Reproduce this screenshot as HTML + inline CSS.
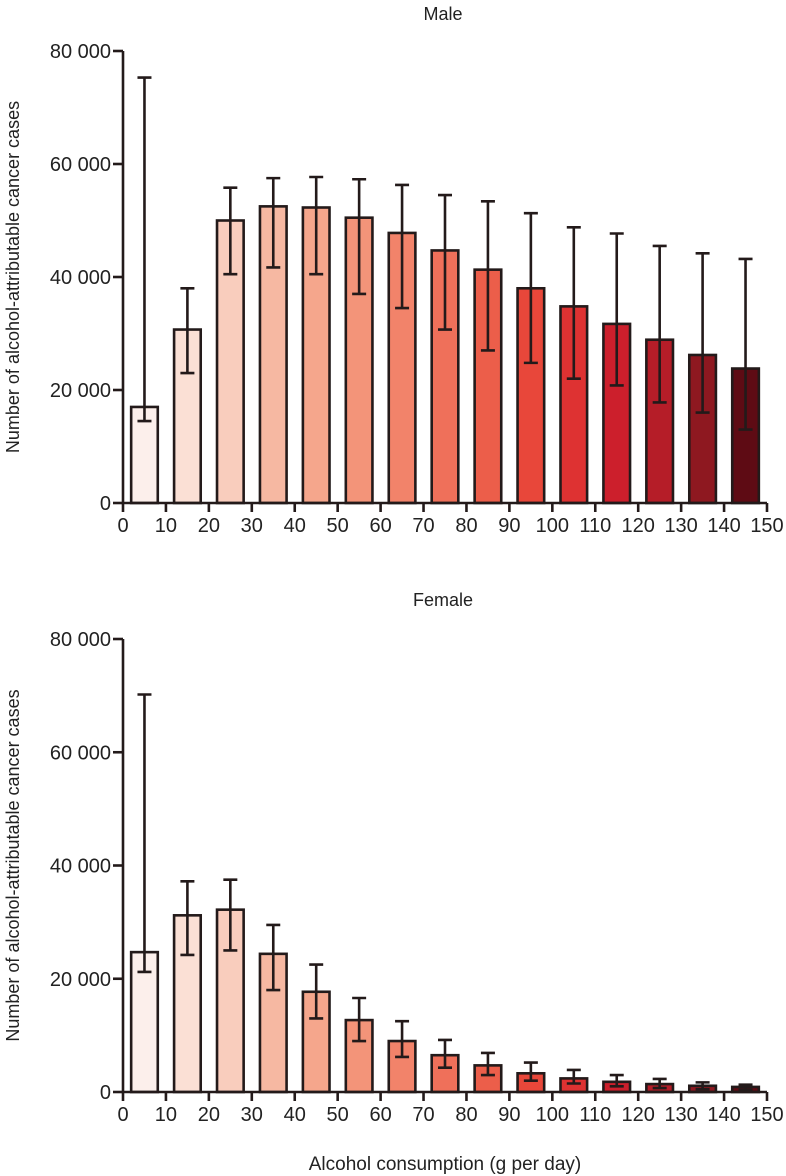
<!DOCTYPE html>
<html><head><meta charset="utf-8">
<style>
html,body{margin:0;padding:0;background:#fff;}
svg{display:block;font-family:"Liberation Sans",sans-serif;}
</style></head>
<body>
<svg id="chart" width="786" height="1176" viewBox="0 0 786 1176" xmlns="http://www.w3.org/2000/svg"></svg>
<script>
const categories = [0,10,20,30,40,50,60,70,80,90,100,110,120,130,140];
const xTicks = [0,10,20,30,40,50,60,70,80,90,100,110,120,130,140,150];
const yTicks = [0,20000,40000,60000,80000];
const yTickLabels = ["0","20 000","40 000","60 000","80 000"];
const maleValues = [17000,30700,50000,52500,52300,50500,47800,44700,41300,38000,34800,31700,28900,26200,23800];
const maleLow = [14500,23000,40500,41700,40500,37000,34500,30700,27000,24800,22000,20800,17800,16000,13000];
const maleHigh = [75300,38000,55800,57500,57700,57300,56300,54500,53400,51300,48800,47700,45500,44200,43200];
const femaleValues = [24700,31200,32200,24400,17700,12700,9000,6500,4700,3300,2400,1800,1400,1100,900];
const femaleLow = [21200,24200,25000,18000,13000,9000,6200,4300,3000,2000,1500,1000,700,500,400];
const femaleHigh = [70200,37200,37500,29500,22500,16600,12500,9200,6900,5200,3900,3000,2300,1700,1300];
const colors = ["#fcefeb","#fbe0d5","#f9cdbd","#f6b8a2","#f5a68c","#f39479","#f2836a","#ef705a","#ec5e4a","#e8473a","#de3232","#cc1f2c","#b51d28","#8e1820","#5e0b14"];

const NS="http://www.w3.org/2000/svg";
const svg=document.getElementById('chart');
function mk(tag,attrs,parent){const e=document.createElementNS(NS,tag);for(const k in attrs)e.setAttribute(k,attrs[k]);(parent||svg).appendChild(e);return e;}
const x0=123,x1=767;
function xs(v){return x0+(v-0)/150*(x1-x0);}

function panel(name,title,titleY,base,top,vals,lo,hi){
  const g=mk('g',{});
  
  
  function ys(v){return base-(v/80000)*(base-top);}
  const t=mk('text',{x:443,y:titleY,'text-anchor':'middle','font-size':18,fill:'#222'},g);
  t.textContent=title;
  
  
  const yl=mk('text',{x:0,y:0,'text-anchor':'middle','font-size':18,fill:'#222',transform:`translate(19,${(base+top)/2}) rotate(-90)`},g);
  yl.textContent='Number of alcohol-attributable cancer cases';
  
  
  categories.forEach((c,i)=>{
    const bx=xs(c+1.9), bw=xs(c+8.1)-xs(c+1.9);
    const r=mk('rect',{x:bx,y:ys(vals[i]),width:bw,height:base-ys(vals[i]),fill:colors[i],stroke:'#231a1a','stroke-width':2.6},g);
    
    
    const cx=xs(c+5);
    const e=mk('path',{d:`M${cx},${ys(lo[i])}V${ys(hi[i])}M${cx-7},${ys(lo[i])}H${cx+7}M${cx-7},${ys(hi[i])}H${cx+7}`,stroke:'#231a1a','stroke-width':2.6,fill:'none'},g);
    
    
  });
  const ax=mk('path',{d:`M${x0},${top}V${base}H${x1}`,stroke:'#231a1a','stroke-width':2.6,fill:'none'},g);
  
  
  yTicks.forEach((v,i)=>{
    mk('line',{x1:x0-10,x2:x0,y1:ys(v),y2:ys(v),stroke:'#231a1a','stroke-width':2.6},g);
    const l=mk('text',{x:x0-12,y:ys(v)+7,'text-anchor':'end','font-size':20,fill:'#222'},g);
    l.textContent=yTickLabels[i];
    
    
  });
  xTicks.forEach(v=>{
    mk('line',{x1:xs(v),x2:xs(v),y1:base,y2:base+9,stroke:'#231a1a','stroke-width':2.6},g);
    const l=mk('text',{x:xs(v),y:base+29,'text-anchor':'middle','font-size':20,fill:'#222'},g);
    l.textContent=v;
    
    
  });
}
panel('male','Male',20,503,51,maleValues,maleLow,maleHigh);
panel('female','Female',606,1092,639,femaleValues,femaleLow,femaleHigh);
const xl=mk('text',{x:445,y:1170,'text-anchor':'middle','font-size':19,fill:'#222'});
xl.textContent='Alcohol consumption (g per day)';


</script>
</body></html>
